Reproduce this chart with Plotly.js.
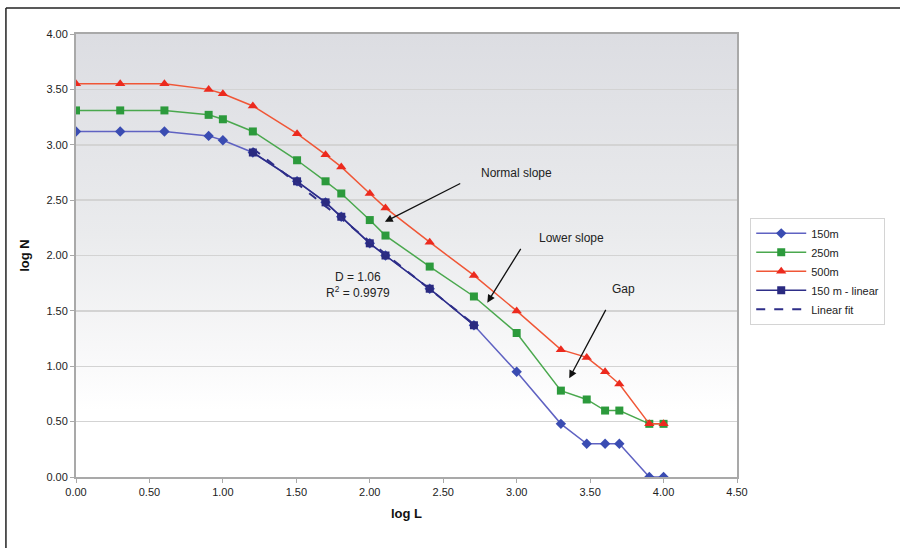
<!DOCTYPE html>
<html>
<head>
<meta charset="utf-8">
<script src="https://cdn.plot.ly/plotly-3.0.1.min.js"></script>
<style>
  html, body { margin: 0; padding: 0; background: #ffffff; }
  #chart { width: 900px; height: 548px; }
</style>
</head>
<body>
<div id="chart"></div>
<script>
// log L values (log10 of lengths)
const logL = [0, 0.301, 0.602, 0.903, 1.0, 1.204, 1.505, 1.699, 1.806, 2.0, 2.107, 2.408, 2.709, 3.0, 3.301, 3.477, 3.602, 3.699, 3.903, 4.0];
// log N per resolution
const n150 = [3.12, 3.12, 3.12, 3.08, 3.04, 2.93, 2.67, 2.48, 2.35, 2.11, 2.00, 1.70, 1.37, 0.95, 0.48, 0.30, 0.30, 0.30, 0.00, 0.00];
const n250 = [3.31, 3.31, 3.31, 3.27, 3.23, 3.12, 2.86, 2.67, 2.56, 2.32, 2.18, 1.90, 1.63, 1.30, 0.78, 0.70, 0.60, 0.60, 0.48, 0.48];
const n500 = [3.55, 3.55, 3.55, 3.50, 3.46, 3.35, 3.10, 2.91, 2.80, 2.56, 2.43, 2.12, 1.82, 1.50, 1.15, 1.08, 0.95, 0.84, 0.48, 0.48];
// 150 m linear segment
const linL = [1.204, 1.505, 1.699, 1.806, 2.0, 2.107, 2.408, 2.709];
const linN = [2.93, 2.67, 2.48, 2.35, 2.11, 2.00, 1.70, 1.37];
const xTicks = [0, 0.5, 1, 1.5, 2, 2.5, 3, 3.5, 4, 4.5];
const yTicks = [0, 0.5, 1, 1.5, 2, 2.5, 3, 3.5, 4];

// least-squares fit of the linear segment
const mx = linL.reduce((a, b) => a + b, 0) / linL.length;
const my = linN.reduce((a, b) => a + b, 0) / linN.length;
let sxy = 0, sxx = 0;
for (let i = 0; i < linL.length; i++) { sxy += (linL[i] - mx) * (linN[i] - my); sxx += (linL[i] - mx) ** 2; }
const slope = sxy / sxx, icpt = my - slope * mx;
const fitX = [linL[0], linL[linL.length - 1]];
const fitY = fitX.map(v => icpt + slope * v);

const FONT = 'Liberation Sans, Arial, sans-serif';

const traces = [
  { x: logL, y: n150, name: '150m', mode: 'lines+markers',
    line: { color: '#5f62c2', width: 1.5 },
    marker: { symbol: 'diamond', size: 8, color: '#3a4cb2' } },
  { x: logL, y: n250, name: '250m', mode: 'lines+markers',
    line: { color: '#4aa84e', width: 1.5 },
    marker: { symbol: 'square', size: 8, color: '#2c9a3c' } },
  { x: logL, y: n500, name: '500m', mode: 'lines+markers',
    line: { color: '#f05636', width: 1.5 },
    marker: { symbol: 'triangle-up', size: 9, color: '#ec2a1e' } },
  { x: linL, y: linN, name: '150 m - linear', mode: 'lines+markers',
    line: { color: '#2e2e88', width: 1.5 },
    marker: { symbol: 'square', size: 8, color: '#2a2a80' } },
  { x: fitX, y: fitY, name: 'Linear fit', mode: 'lines',
    line: { color: '#2e2e88', width: 2, dash: 'dash' } }
];

const gradSvg = '<svg xmlns="http://www.w3.org/2000/svg" width="10" height="100" preserveAspectRatio="none">' +
  '<defs><linearGradient id="g" x1="0" y1="0" x2="0" y2="1">' +
  '<stop offset="0" stop-color="#dcdde2"/><stop offset="0.45" stop-color="#eaebed"/>' +
  '<stop offset="0.72" stop-color="#f8f8f9"/><stop offset="0.85" stop-color="#ffffff"/>' +
  '<stop offset="1" stop-color="#ffffff"/></linearGradient></defs>' +
  '<rect width="10" height="100" fill="url(#g)"/></svg>';

function ann(text, x, y, extra) {
  return Object.assign({ text: text, x: x, y: y, xref: 'x', yref: 'y', showarrow: false,
    font: { family: FONT, size: 12, color: '#222' } }, extra || {});
}
function arrow(x0, y0, x1, y1) {
  return { text: '', x: x1, y: y1, ax: x0, ay: y0, xref: 'x', yref: 'y', axref: 'x', ayref: 'y',
    showarrow: true, arrowhead: 2, arrowsize: 1.2, arrowwidth: 1.3, arrowcolor: '#111' };
}

const layout = {
  width: 900, height: 548,
  margin: { l: 76, r: 163, t: 34, b: 71 },
  paper_bgcolor: '#ffffff',
  plot_bgcolor: '#ffffff',
  showlegend: true,
  legend: {
    x: 1.02, y: 0.585, xanchor: 'left', yanchor: 'top',
    bgcolor: '#ffffff', bordercolor: '#d4d4d4', borderwidth: 1,
    font: { family: FONT, size: 11, color: '#222' },
    itemwidth: 50,
    tracegroupgap: 0
  },
  xaxis: {
    range: [0, 4.5], tickvals: xTicks, ticktext: xTicks.map(v => v.toFixed(2)),
    showgrid: false, zeroline: false,
    showline: true, mirror: true, linecolor: '#a9a9a9', linewidth: 2,
    ticks: 'outside', ticklen: 4, tickcolor: '#a9a9a9',
    tickfont: { family: FONT, size: 11, color: '#222' },
    title: { text: '<b>log L</b>', font: { family: FONT, size: 13, color: '#111' }, standoff: 12 },
    automargin: false
  },
  yaxis: {
    range: [0, 4], tickvals: yTicks, ticktext: yTicks.map(v => v.toFixed(2)),
    showgrid: true, gridcolor: '#d3d3d3', gridwidth: 1.5, zeroline: false,
    showline: true, mirror: true, linecolor: '#a9a9a9', linewidth: 2,
    ticks: 'outside', ticklen: 4, tickcolor: '#a9a9a9',
    tickfont: { family: FONT, size: 11, color: '#222' },
    title: { text: '<b>log N</b>', font: { family: FONT, size: 13, color: '#111' }, standoff: 14 },
    automargin: false
  },
  images: [{
    source: 'data:image/svg+xml;charset=utf-8,' + encodeURIComponent(gradSvg),
    xref: 'paper', yref: 'paper', x: 0, y: 1, sizex: 1, sizey: 1,
    sizing: 'stretch', layer: 'below', xanchor: 'left', yanchor: 'top'
  }],
  shapes: [
    { type: 'line', xref: 'paper', yref: 'paper', x0: -0.106, x1: 1.3, y0: 1.0587, y1: 1.0587,
      line: { color: '#222', width: 1.5 } },
    { type: 'line', xref: 'paper', yref: 'paper', x0: -0.106, x1: -0.106, y0: 1.0587, y1: -0.2,
      line: { color: '#222', width: 1.5 } }
  ],
  annotations: [
    ann('Normal slope', 3.0, 2.742),
    arrow(2.626, 2.657, 2.103, 2.305),
    ann('Lower slope', 3.37, 2.16),
    arrow(3.034, 2.074, 2.80, 1.574),
    ann('Gap', 3.726, 1.698),
    arrow(3.612, 1.523, 3.358, 0.891),
    ann('D = 1.06<br>R<sup>2</sup> = 0.9979', 1.92, 1.733)
  ]
};

Plotly.newPlot('chart', traces, layout, { displayModeBar: false, staticPlot: true });
</script>
</body>
</html>
